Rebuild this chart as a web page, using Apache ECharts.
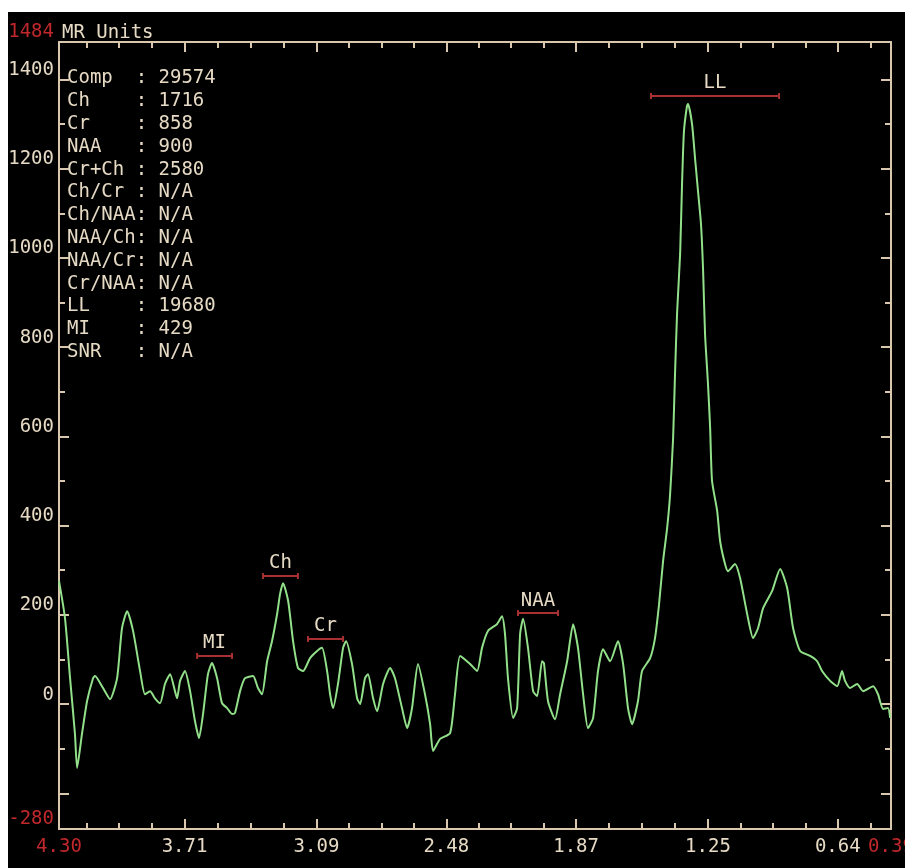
<!DOCTYPE html>
<html><head><meta charset="utf-8">
<script src="https://cdn.jsdelivr.net/npm/echarts@6/dist/echarts.min.js"></script>
<style>
html,body{margin:0;padding:0;background:#fff;}
#c{position:absolute;left:8px;top:12px;width:897px;height:856px;background:#000;}
</style></head><body><div id="c"></div>
<script>
// ---- spectrum (chemical shift in ppm, intensity in MR units) ----
const ppm = [4.300,4.272,4.248,4.225,4.215,4.192,4.168,4.140,4.131,4.093,
4.060,4.027,4.004,3.980,3.952,3.919,3.896,3.872,3.849,3.825,
3.802,3.778,3.755,3.745,3.731,3.708,3.684,3.661,3.642,3.623,
3.600,3.581,3.557,3.534,3.510,3.487,3.473,3.449,3.426,3.388,
3.365,3.346,3.322,3.299,3.275,3.261,3.247,3.223,3.200,3.177,
3.153,3.120,3.087,3.064,3.040,3.026,3.012,2.989,2.965,2.951,
2.923,2.899,2.885,2.862,2.848,2.824,2.805,2.777,2.744,2.721,
2.688,2.664,2.641,2.613,2.580,2.556,2.542,2.509,2.462,2.439,
2.415,2.368,2.335,2.312,2.284,2.242,2.218,2.204,2.190,2.166,
2.147,2.133,2.119,2.096,2.072,2.053,2.030,2.021,2.002,1.969,
1.945,1.912,1.884,1.861,1.837,1.814,1.790,1.767,1.743,1.710,
1.673,1.649,1.626,1.607,1.579,1.560,1.522,1.499,1.480,1.461,
1.442,1.428,1.414,1.405,1.395,1.381,1.372,1.363,1.349,1.344,
1.325,1.311,1.297,1.283,1.273,1.264,1.250,1.240,1.231,1.207,
1.193,1.170,1.156,1.123,1.099,1.066,1.038,1.015,0.991,0.949,
0.911,0.878,0.850,0.817,0.770,0.737,0.714,0.676,0.643,0.620,
0.606,0.582,0.549,0.521,0.474,0.451,0.427,0.404,0.394];
const intensity = [276,193,58,-67,-143,-67,7,58,63,36,
11,58,170,208,164,74,22,29,13,2,
45,67,29,13,52,74,29,-38,-76,-22,
67,92,58,2,-9,-22,-20,29,58,63,
36,22,96,141,202,247,271,231,141,81,
74,103,119,126,74,22,-9,45,126,141,
90,13,0,58,67,13,-16,45,81,58,
-9,-54,-9,90,22,-45,-105,-78,-65,22,
108,90,74,126,164,179,197,157,58,-31,
-9,157,191,126,29,18,96,92,7,-34,
22,96,179,126,22,-54,-31,74,123,96,
141,90,-9,-45,7,74,103,148,224,321,
395,471,596,740,880,1009,1166,1284,1340,1345,
1300,1224,1150,1076,971,830,717,619,500,433,
365,314,298,314,282,202,148,170,215,253,
303,260,170,119,108,96,74,52,40,74,
52,36,45,29,40,22,-11,-9,-31];

// ---- peak integration markers ----
const markerNames = ['MI','Ch','Cr','NAA','LL'];
const markerStart = [3.651,3.341,3.130,2.143,1.518];
const markerEnd   = [3.487,3.177,2.965,1.955,0.916];
const markerLevel = [108,287,146,204,1363];

// ---- metrics table ----
const metricNames  = ['Comp','Ch','Cr','NAA','Cr+Ch','Ch/Cr','Ch/NAA','NAA/Ch','NAA/Cr','Cr/NAA','LL','MI','SNR'];
const metricValues = ['29574','1716','858','900','2580','N/A','N/A','N/A','N/A','N/A','19680','429','N/A'];

// ---- axes ----
const xMin = 0.39, xMax = 4.30;
const xTickValues = [4.30,3.71,3.09,2.48,1.87,1.25,0.64,0.39];
const xTickLabels = ['4.30','3.71','3.09','2.48','1.87','1.25','0.64','0.39'];
const xMajorTicks = [3.71,3.09,2.48,1.87,1.25,0.64];
const yMin = -280, yMax = 1484;
const yLabelValues = [-280,0,200,400,600,800,1000,1200,1400,1484];
const yMajorTicks = [-200,0,200,400,600,800,1000,1200,1400];
const yMinorTicks = [-100,100,300,500,700,900,1100,1300];
const yAxisTitle = 'MR Units';

// minor x ticks: quarter steps between majors, extended to the frame
const step = (xMajorTicks[0]-xMajorTicks[xMajorTicks.length-1])/(xMajorTicks.length-1)/4;
const xMinorTicks = [];
for (let v = xMajorTicks[0]+step; v < xMax; v += step) xMinorTicks.push(v);
for (let i=0;i<xMajorTicks.length-1;i++) for (let k=1;k<4;k++) xMinorTicks.push(xMajorTicks[i]-k*(xMajorTicks[i]-xMajorTicks[i+1])/4);
for (let v = xMajorTicks[xMajorTicks.length-1]-step; v > xMin; v -= step) xMinorTicks.push(v);

const FONT = '"DejaVu Sans Mono", monospace';
const BEIGE = '#e6dac4', AXIS = '#dac8ae', RED = '#c0282c', MARK = '#a83030', GREEN = '#93e08a';

function xLabelFmt(v){
  const i = xTickValues.findIndex(t => Math.abs(t - v) < 1e-6);
  if (i < 0) return '';
  return (i === 0 || i === xTickValues.length-1) ? '{r|'+xTickLabels[i]+'}' : xTickLabels[i];
}
function yLabelFmt(v){
  const i = yLabelValues.indexOf(v);
  if (i < 0) return '';
  return (i === 0 || i === yLabelValues.length-1) ? '{r|'+v+'}' : String(v);
}
function xAx(pos, ticks, len, line, label){
  return {type:'value', position:pos, inverse:true, min:xMin, max:xMax,
    axisLine:{show:line, onZero:false, lineStyle:{color:AXIS, width:2}},
    axisTick:{show:true, inside:true, length:len, customValues:ticks, lineStyle:{color:AXIS, width:2}},
    axisLabel: label ? {show:true, customValues:xTickValues, formatter:xLabelFmt, margin:9,
      fontFamily:FONT, fontSize:19, color:BEIGE, rich:{r:{color:RED, fontFamily:FONT, fontSize:19}}} : {show:false},
    splitLine:{show:false}};
}
function yAx(pos, ticks, len, line, label){
  return {type:'value', position:pos, min:yMin, max:yMax,
    axisLine:{show:line, onZero:false, lineStyle:{color:AXIS, width:2}},
    axisTick:{show:true, inside:true, length:len, customValues:ticks, lineStyle:{color:AXIS, width:2}},
    axisLabel: label ? {show:true, customValues:yLabelValues, formatter:yLabelFmt, margin:5, verticalAlign:'bottom',
      fontFamily:FONT, fontSize:19, color:BEIGE, rich:{r:{color:RED, fontFamily:FONT, fontSize:19}}} : {show:false},
    splitLine:{show:false}};
}

const metricText = metricNames.map((n,i) => (n + '      ').slice(0,6) + ': ' + metricValues[i]).join('\n');

const chart = echarts.init(document.getElementById('c'));
chart.setOption({
  backgroundColor:'#000',
  animation:false,
  grid:{left:51, right:14, top:30, bottom:39, containLabel:false, outerBoundsMode:'none'},
  xAxis:[
    xAx('bottom', xMajorTicks, 10, true, true),
    xAx('bottom', xMinorTicks, 6, false, false),
    xAx('top', xMajorTicks, 10, true, false),
    xAx('top', xMinorTicks, 6, false, false)
  ],
  yAxis:[
    yAx('left', yMajorTicks, 10, true, true),
    yAx('left', yMinorTicks, 6, false, false),
    yAx('right', yMajorTicks, 10, true, false),
    yAx('right', yMinorTicks, 6, false, false)
  ],
  graphic:[
    {type:'text', x:54, y:21, style:{text:yAxisTitle, fill:BEIGE, font:'19px '+FONT, verticalAlign:'middle'}},
    {type:'text', x:59, y:55, style:{text:metricText, fill:BEIGE, font:'19px '+FONT, lineHeight:22.8, verticalAlign:'top'}}
  ],
  series:[
    {type:'line', xAxisIndex:0, yAxisIndex:0, data: ppm.map((p,i)=>[p, intensity[i]]),
     showSymbol:false, symbol:'none', smooth:0.2, lineStyle:{color:GREEN, width:2}, z:3},
    {type:'custom', xAxisIndex:0, yAxisIndex:0, z:4,
     data: markerNames.map((n,i)=>[markerStart[i], markerEnd[i], markerLevel[i]]),
     encode:{x:[0,1], y:2},
     renderItem:function(params, api){
       const s = api.coord([api.value(0), api.value(2)]);
       const e = api.coord([api.value(1), api.value(2)]);
       const st = {stroke:MARK, lineWidth:2};
       return {type:'group', children:[
         {type:'line', shape:{x1:s[0], y1:s[1], x2:e[0], y2:e[1]}, style:st},
         {type:'line', shape:{x1:s[0], y1:s[1]-3, x2:s[0], y2:s[1]+3}, style:st},
         {type:'line', shape:{x1:e[0], y1:e[1]-3, x2:e[0], y2:e[1]+3}, style:st},
         {type:'text', x:(s[0]+e[0])/2, y:s[1]-3, style:{text:markerNames[params.dataIndex], fill:BEIGE,
           font:'19px '+FONT, align:'center', verticalAlign:'bottom'}}
       ]};
     }}
  ]
});
</script></body></html>
